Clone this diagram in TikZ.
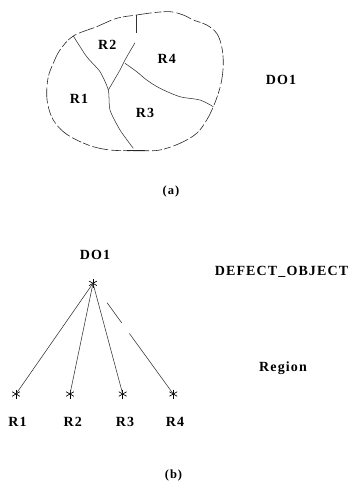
\documentclass[tikz,border=0pt]{standalone}
\usepackage{fontspec}
\newfontfamily\lblfont{Liberation Serif}[LetterSpace=8]
\begin{document}
\begin{tikzpicture}[x=1pt,y=-1pt,
  lbl/.style={font=\lblfont\bfseries\fontsize{14}{16}\selectfont, inner sep=0pt},
  captext/.style={font=\lblfont\bfseries\fontsize{12.5}{14}\selectfont, inner sep=0pt},
  thinline/.style={line width=0.55pt, draw=black!80},
  outline/.style={line width=0.6pt, draw=black!85, dash pattern=on 16pt off 3pt on 7pt off 2pt on 10pt off 3pt},
  asterisk/.style={minimum size=9pt, inner sep=0pt, outer sep=0pt,
    path picture={
      \draw[line width=0.65pt] ([yshift=4.5pt]path picture bounding box.center) -- ([yshift=-4.5pt]path picture bounding box.center);
      \draw[line width=0.65pt] ([shift={(-3.9pt,-2.25pt)}]path picture bounding box.center) -- ([shift={(3.9pt,2.25pt)}]path picture bounding box.center);
      \draw[line width=0.65pt] ([shift={(-3.9pt,2.25pt)}]path picture bounding box.center) -- ([shift={(3.9pt,-2.25pt)}]path picture bounding box.center);
    }}]
\useasboundingbox (0,0) rectangle (353,484);

% ---- (a) region map ----
\draw[outline] plot[smooth cycle, tension=0.6] coordinates {
  (73.3,36) (96.7,26.7) (116.7,18.3) (136.7,15) (153.3,12.7) (170,11.7)
  (183.3,15) (193.3,20) (206.7,25) (216.7,33.3) (221.7,46.7) (223.3,63.3)
  (221.7,80) (218.3,93.3) (213.3,106.7) (206.7,120) (196.7,133.3) (180,143.3)
  (160,150) (143.3,150.7) (126.7,150.7) (110,150) (93.3,146.7) (76.7,140)
  (63.3,131.7) (53.3,120) (48.3,106.7) (46.7,93.3) (48.3,76.7) (53.3,63.3) (60,50)};
% internal borders
\draw[thinline] plot[smooth, tension=0.4] coordinates {(73.3,36) (86.7,56.7) (100,71.7) (108.3,90) (110,110) (120,130) (133.3,148.3)};
\draw[thinline] (136.7,15) -- (136.7,33.3);
\draw[thinline] plot[smooth, tension=0.4] coordinates {(135,42.7) (125,60) (120,70) (108.3,90)};
\draw[thinline] plot[smooth, tension=0.5] coordinates {(125,63.3) (136.7,71.7) (146.7,80) (160,88.3) (180,96.7) (200,100) (213.3,106.7)};
\draw[line width=0.9pt, draw=black!85] (126.7,150.7) -- (145,150.7);

\node[lbl] (lR1) at (79,99) {R1};
\node[lbl] (lR2) at (107.3,45) {R2};
\node[lbl] (lR3) at (145,113.3) {R3};
\node[lbl] (lR4) at (166.7,59.3) {R4};
\node[lbl] (doA) at (281,79.5) {DO1};
\node[captext] (capa) at (171,191.5) {(a)};

% ---- (b) tree ----
\node[lbl] (doB) at (95,255) {DO1};
\node[asterisk] (root) at (93,283.3) {};
\node[asterisk] (s1) at (16,394) {};
\node[asterisk] (s2) at (70,394) {};
\node[asterisk] (s3) at (122.7,394) {};
\node[asterisk] (s4) at (173.3,394) {};
\node[lbl] (r1) at (17.5,421.7) {R1};
\node[lbl] (r2) at (72.7,421.7) {R2};
\node[lbl] (r3) at (125,421.7) {R3};
\node[lbl] (r4) at (175,421.7) {R4};

\draw[thinline] (root.center) -- (s1.center);
\draw[thinline] (root.center) -- (s2.center);
\draw[thinline] (root.center) -- (s3.center);
\draw[thinline, dash pattern=on 0pt off 24pt on 25pt off 13pt on 200pt] (root.center) -- (s4.center);

\node[lbl] (defobj) at (281.5,272) {DEFECT\_OBJECT};
\node[lbl] (region) at (283,368.5) {Region};
\node[captext] (capb) at (173.5,475) {(b)};
\end{tikzpicture}
\end{document}
